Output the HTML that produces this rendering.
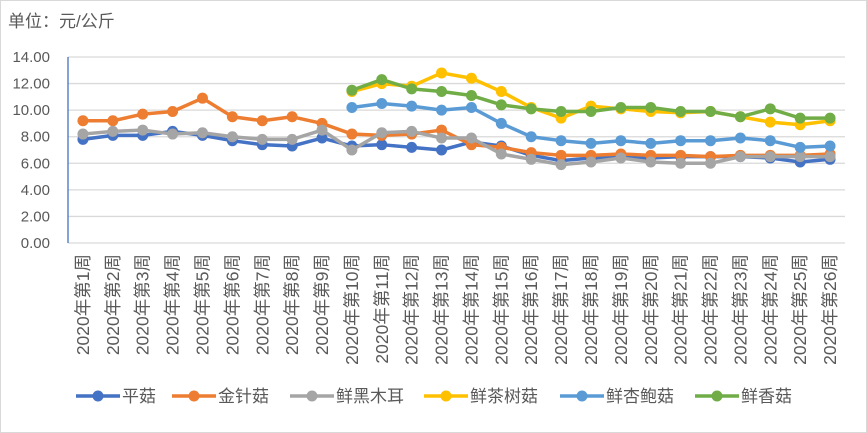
<!DOCTYPE html>
<html><head><meta charset="utf-8"><style>
body{margin:0;background:#fff;font-family:"Liberation Sans","Noto Sans CJK SC",sans-serif}
#wrap{position:relative;width:867px;height:433px;overflow:hidden}
</style></head><body>
<div id="wrap">
<svg id="svg" width="867" height="433" xmlns="http://www.w3.org/2000/svg">
<rect x="0.5" y="0.5" width="866" height="432" fill="#fff" stroke="#d9d9d9"/>
<text x="8" y="27" font-size="17" fill="#595959" font-family="Liberation Sans, Noto Sans CJK SC, sans-serif">单位：元/公斤</text>
</svg>
</div>
<script>
const categories=[];for(let i=1;i<=26;i++)categories.push('2020年第'+i+'周');
const yTicks=[0,2,4,6,8,10,12,14];
const pingGu=[7.8,8.1,8.1,8.4,8.1,7.7,7.4,7.3,7.9,7.3,7.4,7.2,7.0,7.6,7.3,6.6,6.2,6.4,6.5,6.4,6.5,6.5,6.5,6.4,6.1,6.3];
const jinZhenGu=[9.2,9.2,9.7,9.9,10.9,9.5,9.2,9.5,9.0,8.2,8.1,8.2,8.5,7.4,7.2,6.8,6.6,6.6,6.7,6.6,6.6,6.5,6.6,6.6,6.6,6.7];
const heiMuEr=[8.2,8.4,8.5,8.2,8.3,8.0,7.8,7.8,8.5,7.0,8.3,8.4,7.9,7.9,6.7,6.3,5.9,6.1,6.4,6.1,6.0,6.0,6.5,6.5,6.5,6.5];
const chaShuGu=[null,null,null,null,null,null,null,null,null,11.4,12.0,11.8,12.8,12.4,11.4,10.2,9.4,10.3,10.1,9.9,9.8,9.9,9.5,9.1,8.9,9.2];
const xingBaoGu=[null,null,null,null,null,null,null,null,null,10.2,10.5,10.3,10.0,10.2,9.0,8.0,7.7,7.5,7.7,7.5,7.7,7.7,7.9,7.7,7.2,7.3];
const xiangGu=[null,null,null,null,null,null,null,null,null,11.5,12.3,11.6,11.4,11.1,10.4,10.1,9.9,9.9,10.2,10.2,9.9,9.9,9.5,10.1,9.4,9.4];
const seriesNames=['平菇','金针菇','鲜黑木耳','鲜茶树菇','鲜杏鲍菇','鲜香菇'];
const seriesColors=['#4472c4','#ed7d31','#a5a5a5','#ffc000','#5b9bd5','#70ad47'];
const seriesData=[pingGu,jinZhenGu,heiMuEr,chaShuGu,xingBaoGu,xiangGu];
const NS='http://www.w3.org/2000/svg';const svg=document.getElementById('svg');
const x0=68,x1=845,y0=243,yTop=57,yMax=14;
const xs=i=>x0+(x1-x0)/categories.length*(i+0.5);
const ys=v=>y0-(y0-yTop)*v/yMax;
function mk(t,a){const e=document.createElementNS(NS,t);for(const k in a)e.setAttribute(k,a[k]);svg.appendChild(e);return e;}
yTicks.forEach(v=>{
 const l=mk('line',{x1:x0,x2:x1,y1:ys(v),y2:ys(v),stroke:'#d9d9d9','stroke-width':1.3});
 
 
 const t=mk('text',{x:50,y:ys(v)+5,'text-anchor':'end','font-size':15,fill:'#595959'});
 t.textContent=v.toFixed(2);
 
 
});
const ax=mk('line',{x1:x0,x2:x0,y1:yTop,y2:y0,stroke:'#4472c4','stroke-width':1.3});


categories.forEach((c,i)=>{
 const t=mk('text',{transform:`translate(${xs(i)+6},254) rotate(-90)`,'text-anchor':'end','font-size':17.5,fill:'#595959'});
 t.textContent=c;
 
 
});
seriesData.forEach((d,s)=>{
 let pts=[];d.forEach((v,i)=>{if(v!=null)pts.push(xs(i)+','+ys(v));});
 const p=mk('polyline',{points:pts.join(' '),fill:'none',stroke:seriesColors[s],'stroke-width':3.5,'stroke-linejoin':'round'});
 
 
 d.forEach((v,i)=>{if(v==null)return;
  const c=mk('circle',{cx:xs(i),cy:ys(v),r:5.5,fill:seriesColors[s]});
  
  
 });
});
const legX=[76,172,290,424,560,695];
seriesNames.forEach((n,s)=>{
 const l=mk('line',{x1:legX[s],x2:legX[s]+44,y1:396,y2:396,stroke:seriesColors[s],'stroke-width':3.5});
 
 
 const c=mk('circle',{cx:legX[s]+22,cy:396,r:5.5,fill:seriesColors[s]});
 
 
 const t=mk('text',{x:legX[s]+46,y:402,'font-size':17,fill:'#595959'});
 t.textContent=n;
 
 
});
</script>
</body></html>
